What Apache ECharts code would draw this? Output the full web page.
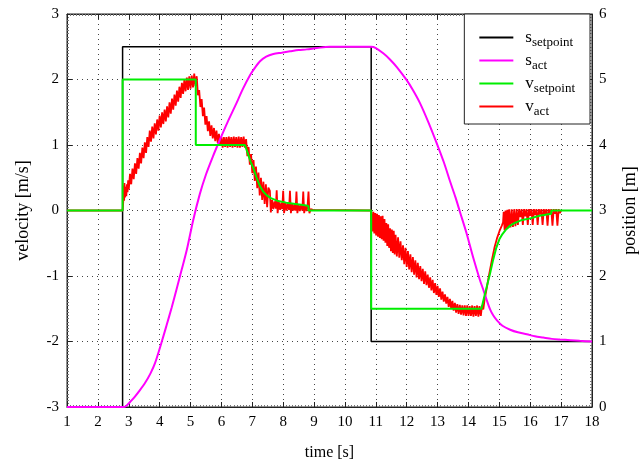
<!DOCTYPE html>
<html lang="en">

<head>
    <meta charset="UTF-8">
    <title>velocity / position</title>
    <script src="https://cdn.jsdelivr.net/npm/echarts@6/dist/echarts.min.js"></script>
    <style>
        html,
        body,
        #chart {
            width: 640px;
            height: 465px;
            margin: 0;
            padding: 0;
            background: #fff;
        }
    </style>
</head>

<body>
    <div id="chart"></div>
    <script>
        var seriesNames = ['s_setpoint', 's_act', 'v_setpoint', 'v_act'];
        var xTicks = [1, 18];
        var velocityRange = [-3, 3];
        var positionRange = [0, 6];

        // position setpoint [t, m]
        var sSetpoint = [[1, 0], [2.8, 0], [2.8, 5.5], [10.85, 5.5], [10.85, 1], [18, 1]];

        // measured position [t, m]
        var sAct = [[1, 0], [2.85, 0], [2.95, 0.03], [3.05, 0.08], [3.2, 0.16], [3.35, 0.25], [3.53, 0.37],
            [3.7, 0.51], [3.85, 0.67], [4.07, 1.0], [4.22, 1.24], [4.39, 1.52], [4.55, 1.8], [4.71, 2.09],
            [4.88, 2.4], [5.09, 2.86], [5.3, 3.25], [5.5, 3.55], [5.72, 3.82], [5.95, 4.08], [6.2, 4.35],
            [6.45, 4.6], [6.7, 4.86], [6.93, 5.07], [7.1, 5.19], [7.25, 5.28], [7.45, 5.35], [7.68, 5.39],
            [7.95, 5.41], [8.22, 5.43], [8.5, 5.45], [8.76, 5.46], [9.09, 5.48], [9.5, 5.5], [10.85, 5.5],
            [11.0, 5.48], [11.24, 5.4], [11.45, 5.31], [11.68, 5.19], [12.0, 4.99], [12.2, 4.84],
            [12.43, 4.64], [12.7, 4.35], [12.97, 4.03], [13.2, 3.74], [13.4, 3.45], [13.58, 3.2],
            [13.73, 2.97], [13.94, 2.65], [14.16, 2.27], [14.37, 1.94], [14.48, 1.79], [14.6, 1.62],
            [14.7, 1.49], [14.8, 1.4], [14.91, 1.33], [15.1, 1.24], [15.35, 1.18], [15.6, 1.14],
            [15.89, 1.11], [16.15, 1.08], [16.42, 1.06], [16.7, 1.04], [16.96, 1.03], [17.3, 1.02],
            [17.6, 1.01], [18, 1.0]];

        // velocity setpoint [t, m/s]
        var vSetpoint = [[1, 0], [2.8, 0], [2.8, 2], [5.17, 2], [5.17, 1], [6.76, 1], [6.85, 0.88],
            [6.95, 0.74], [7.03, 0.65], [7.14, 0.5], [7.25, 0.37], [7.35, 0.29], [7.47, 0.23], [7.6, 0.19],
            [7.8, 0.15], [8.1, 0.12], [8.4, 0.1], [8.7, 0.08], [8.82, 0.07], [8.82, 0], [10.85, 0],
            [10.85, -1.5], [14.42, -1.5], [14.5, -1.34], [14.6, -1.15], [14.7, -0.96], [14.8, -0.75],
            [14.9, -0.57], [15.0, -0.44], [15.1, -0.36], [15.2, -0.3], [15.35, -0.23], [15.5, -0.19],
            [15.7, -0.15], [16.0, -0.12], [16.3, -0.08], [16.68, -0.05], [16.68, 0], [18, 0]];

        var vActIdle = [[1, 0], [2.8, 0]];
        var vActRise = [[2.82, 0.12], [2.83, 0.38], [2.85, 0.15], [2.86, 0.42], [2.88, 0.2], [2.9, 0.36],
            [2.92, 0.22], [2.94, 0.4], [2.96, 0.28], [2.98, 0.46], [3.00, 0.32], [3.04, 0.56], [3.08, 0.40],
            [3.12, 0.64], [3.16, 0.48], [3.20, 0.72], [3.24, 0.56], [3.28, 0.80], [3.32, 0.64], [3.36, 0.88],
            [3.40, 0.72], [3.44, 0.96], [3.48, 0.80], [3.52, 1.04], [3.56, 0.88], [3.60, 1.12], [3.64, 0.97],
            [3.68, 1.22], [3.72, 1.05], [3.76, 1.28], [3.80, 1.10], [3.84, 1.33], [3.88, 1.16], [3.92, 1.39],
            [3.96, 1.22], [4.00, 1.45], [4.04, 1.27], [4.08, 1.50], [4.12, 1.32], [4.16, 1.54], [4.20, 1.36],
            [4.24, 1.59], [4.28, 1.42], [4.32, 1.65], [4.36, 1.48], [4.40, 1.71], [4.44, 1.54], [4.48, 1.77],
            [4.52, 1.60], [4.56, 1.83], [4.60, 1.66], [4.64, 1.89], [4.68, 1.72], [4.72, 1.95], [4.76, 1.78],
            [4.80, 2.00], [4.84, 1.82], [4.88, 2.03], [4.92, 1.84], [4.96, 2.05], [5.00, 1.86], [5.04, 2.06],
            [5.08, 1.88], [5.12, 2.09], [5.16, 1.90], [5.20, 2.05]];
        var vActHold = [[5.24, 1.76], [5.28, 1.84], [5.32, 1.58], [5.36, 1.70], [5.40, 1.44], [5.44, 1.57],
            [5.48, 1.31], [5.52, 1.44], [5.56, 1.21], [5.60, 1.36], [5.64, 1.14], [5.68, 1.30], [5.72, 1.10],
            [5.76, 1.26], [5.80, 1.06], [5.84, 1.22], [5.88, 1.03], [5.92, 1.17], [5.96, 0.99], [6.00, 1.12],
            [6.04, 0.96], [6.08, 1.12], [6.12, 0.97], [6.16, 1.12], [6.20, 0.96], [6.24, 1.13], [6.28, 0.97],
            [6.32, 1.12], [6.36, 0.96], [6.40, 1.13], [6.44, 0.97], [6.48, 1.12], [6.52, 0.96], [6.56, 1.13],
            [6.60, 0.96], [6.64, 1.12], [6.68, 0.97], [6.72, 1.13], [6.76, 0.96], [6.80, 1.09]];
        var vActSettle = [[6.84, 0.83], [6.88, 0.97], [6.92, 0.70], [6.96, 0.86], [7.00, 0.57], [7.04, 0.77],
            [7.08, 0.45], [7.12, 0.67], [7.16, 0.34], [7.20, 0.58], [7.24, 0.23], [7.28, 0.50], [7.32, 0.16],
            [7.36, 0.44], [7.40, 0.10], [7.44, 0.40], [7.48, 0.05], [7.52, 0.35],
            [7.57, 0.30], [7.60, -0.03], [7.64, 0.16], [7.68, 0.02], [7.72, 0.14], [7.76, 0.03],
            [7.79, 0.31], [7.82, -0.04], [7.86, 0.13], [7.90, 0.01], [7.94, 0.12], [7.97, 0.02],
            [8.00, 0.30], [8.03, -0.04], [8.07, 0.12], [8.11, 0.00], [8.15, 0.11], [8.19, 0.01],
            [8.22, 0.30], [8.25, -0.04], [8.29, 0.10], [8.33, 0.00], [8.37, 0.10], [8.40, 0.00],
            [8.43, 0.29], [8.46, -0.04], [8.50, 0.09], [8.54, -0.01], [8.58, 0.09], [8.62, 0.00],
            [8.65, 0.29], [8.68, -0.04], [8.72, 0.08], [8.76, -0.01], [8.79, 0.07],
            [8.82, 0.29], [8.85, -0.04], [8.89, 0.02], [8.93, -0.01], [8.97, 0.01], [9.00, 0],
            [10.85, 0]];
        var vActFall = [[10.86, -0.02], [10.89, -0.32], [10.92, -0.02], [10.95, -0.35], [10.98, -0.04],
            [11.01, -0.38], [11.04, -0.05], [11.07, -0.40], [11.10, -0.07], [11.13, -0.42], [11.16, -0.09],
            [11.19, -0.44], [11.22, -0.08], [11.25, -0.46], [11.28, -0.13], [11.31, -0.49], [11.34, -0.19],
            [11.37, -0.54], [11.40, -0.21], [11.43, -0.57], [11.46, -0.27], [11.49, -0.62], [11.52, -0.29],
            [11.55, -0.65], [11.58, -0.31], [11.61, -0.67], [11.64, -0.37], [11.68, -0.70], [11.72, -0.41],
            [11.76, -0.72], [11.80, -0.47], [11.84, -0.76], [11.88, -0.53], [11.92, -0.82], [11.96, -0.57],
            [12.00, -0.86], [12.04, -0.62], [12.08, -0.90], [12.12, -0.67], [12.16, -0.94], [12.20, -0.71],
            [12.24, -0.98], [12.28, -0.76], [12.32, -1.02], [12.36, -0.80], [12.40, -1.05], [12.44, -0.85],
            [12.48, -1.08], [12.52, -0.89], [12.56, -1.12], [12.60, -0.93], [12.64, -1.14], [12.68, -0.98],
            [12.72, -1.18], [12.76, -1.02], [12.80, -1.22], [12.84, -1.06], [12.88, -1.26], [12.92, -1.11],
            [12.96, -1.29], [13.00, -1.15], [13.04, -1.32], [13.08, -1.19], [13.12, -1.36], [13.16, -1.24],
            [13.20, -1.39], [13.24, -1.28], [13.28, -1.42], [13.32, -1.32], [13.36, -1.47], [13.40, -1.35],
            [13.44, -1.50], [13.48, -1.38], [13.52, -1.53], [13.56, -1.41], [13.60, -1.56], [13.64, -1.43],
            [13.68, -1.58], [13.72, -1.44], [13.76, -1.59], [13.80, -1.45], [13.84, -1.60], [13.88, -1.45],
            [13.92, -1.61], [13.96, -1.45], [14.00, -1.61], [14.04, -1.46], [14.08, -1.61], [14.12, -1.45],
            [14.16, -1.62], [14.20, -1.46], [14.24, -1.61], [14.28, -1.45], [14.32, -1.62], [14.36, -1.46],
            [14.40, -1.61], [14.44, -1.45]];
        var vActReturn = [[14.48, -1.51], [14.52, -1.37], [14.56, -1.34], [14.60, -1.16], [14.64, -1.13],
            [14.68, -0.95], [14.72, -0.93], [14.76, -0.75], [14.80, -0.73], [14.84, -0.57], [14.88, -0.56],
            [14.92, -0.43], [14.96, -0.41], [15.00, -0.32], [15.04, -0.29], [15.08, -0.23], [15.12, -0.18],
            [15.14, -0.02], [15.17, -0.30], [15.20, 0.00], [15.23, -0.28], [15.26, 0.01], [15.29, -0.27],
            [15.32, 0.02], [15.36, -0.26], [15.40, 0.02], [15.44, -0.25], [15.48, 0.02], [15.52, -0.24],
            [15.56, 0.02], [15.60, -0.22], [15.64, 0.02], [15.68, -0.10], [15.72, 0.02], [15.76, -0.22],
            [15.80, 0.02], [15.84, -0.09], [15.88, 0.02], [15.92, -0.22], [15.96, 0.02], [16.00, -0.08],
            [16.04, 0.02], [16.08, -0.22], [16.12, 0.02], [16.16, -0.07], [16.20, 0.02], [16.24, -0.22],
            [16.28, 0.02], [16.32, -0.06], [16.36, 0.02], [16.40, -0.22], [16.44, 0.02], [16.48, -0.06],
            [16.52, 0.02], [16.56, -0.23], [16.60, 0.02], [16.64, -0.05], [16.68, 0.02], [16.72, -0.23],
            [16.76, 0.02], [16.80, -0.05], [16.84, 0.02], [16.88, -0.23], [16.92, 0.02], [16.96, -0.04],
            [17.00, 0]];

        var vAct = vActIdle.concat(vActRise, vActHold, vActSettle, vActFall, vActReturn);

        var font = '"Liberation Serif", "DejaVu Serif", serif';
        var dotted = { color: '#444', width: 1, type: [1, 4] };

        function legendLabel(name) {
            var parts = name.split('_');
            return '{m|' + parts[0] + '}{sub|' + parts[1] + '}';
        }

        function xAxisCfg(pos) {
            return {
                type: 'value',
                position: pos,
                min: xTicks[0],
                max: xTicks[1],
                interval: 1,
                axisLine: { onZero: false, lineStyle: { color: '#222', width: 1 } },
                axisTick: { show: true, inside: true, length: 5, lineStyle: { color: '#222' } },
                minorTick: { show: true, splitNumber: 10, length: 2, lineStyle: { color: '#777' } },
                axisLabel: { show: pos === 'bottom', color: '#000', fontFamily: font, fontSize: 15, margin: 8 },
                splitLine: { show: pos === 'bottom', lineStyle: dotted },
                name: pos === 'bottom' ? 'time [s]' : '',
                nameLocation: 'middle',
                nameGap: 38,
                nameTextStyle: { color: '#000', fontFamily: font, fontSize: 16 }
            };
        }

        var chart = echarts.init(document.getElementById('chart'), null, { renderer: 'canvas' });

        chart.setOption({
            animation: false,
            backgroundColor: '#fff',
            grid: {
                left: 67,
                right: 48,
                top: 14,
                bottom: 58,
                outerBoundsMode: 'none',
                containLabel: false,
                show: true,
                borderColor: '#222',
                borderWidth: 1
            },
            legend: {
                data: seriesNames,
                orient: 'vertical',
                right: 50,
                top: 14,
                padding: [12, 15, 6, 15],
                itemGap: 0,
                icon: 'rect',
                itemWidth: 34,
                itemHeight: 2,
                backgroundColor: '#fff',
                borderColor: '#222',
                borderWidth: 1,
                borderRadius: 0,
                formatter: legendLabel,
                textStyle: {
                    rich: {
                        m: { fontFamily: font, fontSize: 17, lineHeight: 18, color: '#000', padding: [0, 0, 0, 7] },
                        sub: { fontFamily: font, fontSize: 13, lineHeight: 10, color: '#000', padding: [10, 0, 0, 0] }
                    }
                }
            },
            xAxis: [xAxisCfg('bottom'), xAxisCfg('top')],
            yAxis: [{
                type: 'value',
                position: 'left',
                min: velocityRange[0],
                max: velocityRange[1],
                interval: 1,
                axisLine: { show: true, lineStyle: { color: '#222', width: 1 } },
                axisTick: { show: true, inside: true, length: 5, lineStyle: { color: '#222' } },
                minorTick: { show: true, splitNumber: 20, length: 2, lineStyle: { color: '#777' } },
                axisLabel: { color: '#000', fontFamily: font, fontSize: 15, margin: 8 },
                splitLine: { show: true, lineStyle: dotted },
                name: 'velocity [m/s]',
                nameLocation: 'middle',
                nameRotate: 90,
                nameGap: 35,
                nameTextStyle: { color: '#000', fontFamily: font, fontSize: 18 }
            }, {
                type: 'value',
                position: 'right',
                min: positionRange[0],
                max: positionRange[1],
                interval: 1,
                axisLine: { show: true, lineStyle: { color: '#222', width: 1 } },
                axisTick: { show: true, inside: true, length: 5, lineStyle: { color: '#222' } },
                minorTick: { show: true, splitNumber: 20, length: 2, lineStyle: { color: '#777' } },
                axisLabel: { color: '#000', fontFamily: font, fontSize: 15, margin: 7 },
                splitLine: { show: false },
                name: 'position [m]',
                nameLocation: 'middle',
                nameRotate: 90,
                nameGap: 29,
                nameTextStyle: { color: '#000', fontFamily: font, fontSize: 18 }
            }],
            series: [{
                name: 's_setpoint',
                type: 'line',
                yAxisIndex: 1,
                data: sSetpoint,
                symbol: 'none',
                lineStyle: { color: '#000', width: 1.5 },
                itemStyle: { color: '#000' }
            }, {
                name: 'v_act',
                type: 'line',
                yAxisIndex: 0,
                data: vAct,
                symbol: 'none',
                lineStyle: { color: '#ff0000', width: 1.8 },
                itemStyle: { color: '#ff0000' }
            }, {
                name: 's_act',
                type: 'line',
                yAxisIndex: 1,
                data: sAct,
                symbol: 'none',
                smooth: 0.3,
                lineStyle: { color: '#ff00ff', width: 2 },
                itemStyle: { color: '#ff00ff' }
            }, {
                name: 'v_setpoint',
                type: 'line',
                yAxisIndex: 0,
                data: vSetpoint,
                symbol: 'none',
                lineStyle: { color: '#00ee00', width: 2 },
                itemStyle: { color: '#00ee00' }
            }]
        });
    </script>
</body>

</html>
